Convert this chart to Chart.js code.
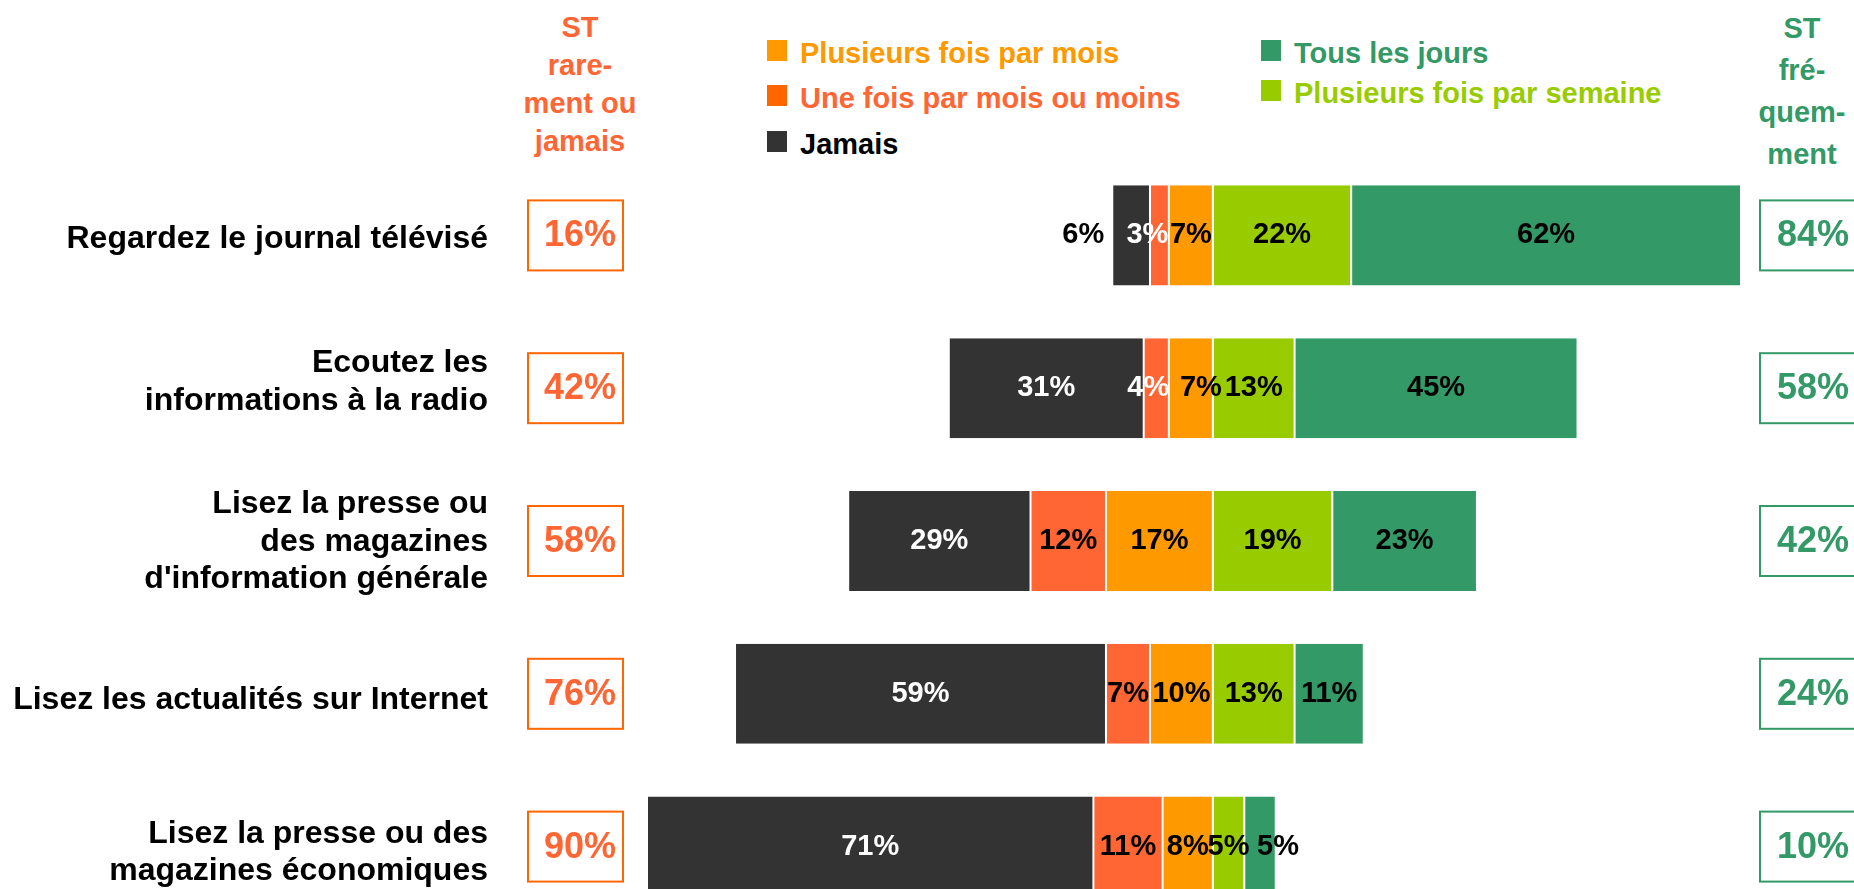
<!DOCTYPE html>
<html lang="fr">
<head>
<meta charset="utf-8">
<title>Fréquence de suivi de l'information</title>
<script src="https://cdn.jsdelivr.net/npm/chart.js@4.4.1/dist/chart.umd.min.js"></script>
<style>
  html, body { margin: 0; padding: 0; background: #fff; overflow: hidden; }
  body { width: 1854px; height: 889px; position: relative; font-family: "Liberation Sans", Arial, sans-serif; font-weight: bold; }
  #chart { position: absolute; left: 0; top: 0; }
  .head { position: absolute; width: 120px; text-align: center; font-size: 29px; }
  .sq { position: absolute; width: 20px; height: 21px; }
  .lg { position: absolute; font-size: 29px; line-height: 30px; white-space: nowrap; }
</style>
</head>
<body>
<div class="head" style="left:520px; top:8px; line-height:38px; color:#FF6633;">ST<br>rare-<br>ment ou<br>jamais</div>
<div class="head" style="left:1742px; top:7px; line-height:42px; color:#339966;">ST<br>fré-<br>quem-<br>ment</div>
<div id="legend"></div>
<canvas id="chart" width="1854" height="924"></canvas>
<script>
// categories (one per row, multi-line labels as arrays)
const categories = [
  ["Regardez le journal télévisé"],
  ["Ecoutez les", "informations à la radio"],
  ["Lisez la presse ou", "des magazines", "d'information générale"],
  ["Lisez les actualités sur Internet"],
  ["Lisez la presse ou des", "magazines économiques"]
];

// series values (%)
const jamais = [6, 31, 29, 59, 71];
const uneFois = [3, 4, 12, 7, 11];
const plusieursMois = [7, 7, 17, 10, 8];
const plusieursSemaine = [22, 13, 19, 13, 5];
const tousLesJours = [62, 45, 23, 11, 5];

// totals shown in the side boxes
const stRarement = [16, 42, 58, 76, 90];
const stFrequemment = [84, 58, 42, 24, 10];

// styling
const FONT = '"Liberation Sans", Arial, sans-serif';
const rowLabelDy = [4, -6, 1, 6, 6];

const labelTweaks = [
  { key: "jamais", row: 0, outside: true, color: "#000000" },
  { key: "uneFois", row: 0, dx: -12, color: "#ffffff" },
  { key: "uneFois", row: 1, dx: -8, color: "#ffffff" },
  { key: "mois", row: 1, dx: 10 },
  { key: "jours", row: 4, dx: 18 }
];

// legend (html)
const legendItems = [
  { label: "Plusieurs fois par mois", box: "#FF9900", text: "#FF9900", x: 767, y: 40 },
  { label: "Une fois par mois ou moins", box: "#FF6600", text: "#FF6633", x: 767, y: 85 },
  { label: "Jamais", box: "#333333", text: "#000000", x: 767, y: 131 },
  { label: "Tous les jours", box: "#339966", text: "#339966", x: 1261, y: 40 },
  { label: "Plusieurs fois par semaine", box: "#99CC00", text: "#99CC00", x: 1261, y: 80 }
];
const legendEl = document.getElementById("legend");
legendItems.forEach(it => {
  const sq = document.createElement("div");
  sq.className = "sq";
  sq.style.left = it.x + "px";
  sq.style.top = it.y + "px";
  sq.style.background = it.box;
  legendEl.appendChild(sq);
  const tx = document.createElement("div");
  tx.className = "lg";
  tx.style.left = (it.x + 33) + "px";
  tx.style.top = (it.y - 2) + "px";
  tx.style.color = it.text;
  tx.textContent = it.label;
  legendEl.appendChild(tx);
});

const neg = arr => arr.map(v => -v);

function makeSet(key, label, data, color, labelColor) {
  return {
    key, label, data, labelColor,
    backgroundColor: color,
    borderColor: "#ffffff",
    borderWidth: { left: 1, right: 1, top: 0, bottom: 0 },
    borderSkipped: false,
    stack: "s"
  };
}

// decorations: segment labels, row labels, side boxes
const decor = {
  id: "decor",
  afterDatasetsDraw(chart) {
    const ctx = chart.ctx;
    const yScale = chart.scales.y;
    ctx.save();

    // segment labels
    ctx.font = "bold 29px " + FONT;
    ctx.textBaseline = "middle";
    chart.data.datasets.forEach((ds, di) => {
      const meta = chart.getDatasetMeta(di);
      meta.data.forEach((bar, i) => {
        const txt = Math.abs(ds.data[i]) + "%";
        const t = labelTweaks.find(o => o.key === ds.key && o.row === i) || {};
        let x = (bar.x + bar.base) / 2 + (t.dx || 0);
        ctx.textAlign = "center";
        if (t.outside) {
          x = Math.min(bar.x, bar.base) - 8;
          ctx.textAlign = "right";
        }
        ctx.fillStyle = t.color || ds.labelColor;
        ctx.fillText(txt, x, bar.y);
      });
    });

    categories.forEach((lines, i) => {
      const yc = yScale.getPixelForValue(i);

      // row label
      ctx.font = "bold 32px " + FONT;
      ctx.fillStyle = "#000000";
      ctx.textAlign = "right";
      const lh = 37.5;
      lines.forEach((ln, k) => {
        ctx.fillText(ln, 488, yc + rowLabelDy[i] + (k - (lines.length - 1) / 2) * lh);
      });

      // side boxes
      ctx.lineWidth = 2;
      ctx.strokeStyle = "#FF6600";
      ctx.strokeRect(528, yc - 35, 95, 70);
      ctx.strokeStyle = "#339966";
      ctx.strokeRect(1760, yc - 35, 95, 70);

      ctx.font = "bold 36px " + FONT;
      ctx.fillStyle = "#FF6633";
      ctx.fillText(stRarement[i] + "%", 616, yc + 1);
      ctx.fillStyle = "#339966";
      ctx.fillText(stFrequemment[i] + "%", 1849, yc + 1);
    });
    ctx.restore();
  }
};

new Chart(document.getElementById("chart"), {
  type: "bar",
  data: {
    labels: categories,
    datasets: [
      makeSet("mois", "Plusieurs fois par mois", neg(plusieursMois), "#FF9900", "#000000"),
      makeSet("uneFois", "Une fois par mois ou moins", neg(uneFois), "#FF6633", "#000000"),
      makeSet("jamais", "Jamais", neg(jamais), "#333333", "#ffffff"),
      makeSet("semaine", "Plusieurs fois par semaine", plusieursSemaine, "#99CC00", "#000000"),
      makeSet("jours", "Tous les jours", tousLesJours, "#339966", "#000000")
    ]
  },
  options: {
    indexAxis: "y",
    responsive: false,
    devicePixelRatio: 1,
    animation: false,
    layout: { padding: { left: 647, right: 113, top: 159, bottom: 1 } },
    datasets: { bar: { categoryPercentage: 1, barPercentage: 0.655 } },
    scales: {
      x: { stacked: true, min: -90, max: 84, display: false },
      y: { stacked: true, display: false }
    },
    plugins: {
      legend: { display: false },
      tooltip: { enabled: false }
    }
  },
  plugins: [decor]
});
</script>
</body>
</html>
